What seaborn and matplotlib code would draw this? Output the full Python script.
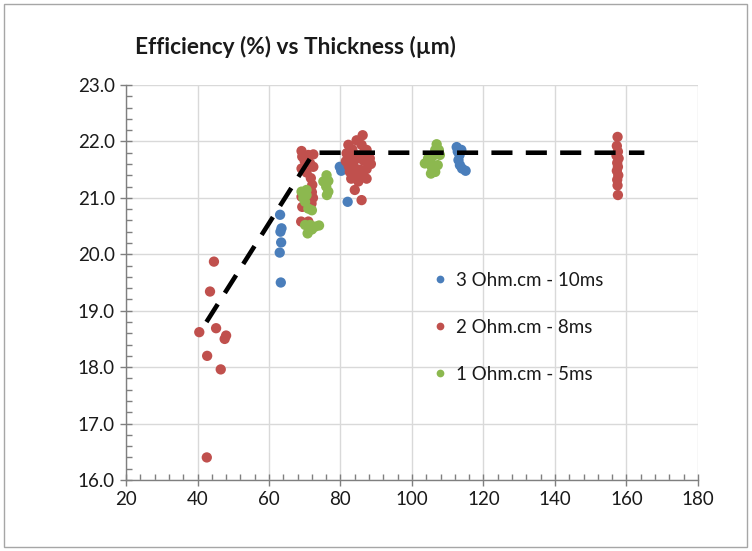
import numpy as np
import pandas as pd
import matplotlib
matplotlib.use("Agg")
import matplotlib.pyplot as plt
import seaborn as sns
from matplotlib.ticker import MultipleLocator, FormatStrFormatter
from matplotlib.patches import Rectangle

# ---- data ----
series_names = ["3 Ohm.cm - 10ms", "2 Ohm.cm - 8ms", "1 Ohm.cm - 5ms"]
series_colors = ["#4A7EBB", "#C0504D", "#8CB84F"]

blue_x = [63.1, 63.5, 63.2, 63.4, 63.0, 63.3, 79.8, 80.2, 82.0,
          112.5, 112.8, 113.3, 113.0, 113.4, 114.0, 115.0, 113.8]
blue_y = [20.70, 20.46, 20.40, 20.21, 20.03, 19.50, 21.55, 21.48, 20.93,
          21.90, 21.82, 21.76, 21.67, 21.58, 21.52, 21.48, 21.85]

red_x = [44.6, 43.5, 40.5, 45.2, 48.0, 47.6, 42.7, 46.5, 42.6,
         69.1, 69.3, 71.0, 72.4, 71.5, 72.4, 69.1, 71.7, 72.1, 69.1, 69.3, 71.9,
         69.0, 71.0, 72.3, 70.0, 70.5, 72.0,
         86.2, 84.5, 82.2, 83.3, 85.9, 87.3, 81.7, 83.6, 84.5, 85.0, 88.2, 86.5,
         82.3, 84.0, 85.5, 87.3, 82.6, 84.5, 86.0, 83.0, 87.3, 85.0, 84.0, 85.9,
         83.5, 86.5, 81.5, 88.5,
         157.5, 157.3, 157.6, 157.2, 157.8, 157.4, 157.6, 157.3, 157.7, 157.4,
         157.5, 157.6]
red_y = [19.87, 19.34, 18.62, 18.69, 18.56, 18.50, 18.20, 17.96, 16.40,
         21.83, 21.73, 21.76, 21.77, 21.61, 21.55, 21.52, 21.35, 21.23, 21.02, 20.84, 20.90,
         20.58, 20.58, 21.00, 21.65, 21.45, 21.10,
         22.11, 22.02, 21.94, 21.86, 21.94, 21.85, 21.79, 21.73, 21.76, 21.70, 21.70, 21.66,
         21.56, 21.53, 21.50, 21.51, 21.46, 21.43, 21.43, 21.34, 21.34, 21.29, 21.14, 20.96,
         21.62, 21.80, 21.65, 21.60,
         22.08, 21.92, 21.82, 21.75, 21.70, 21.62, 21.55, 21.48, 21.40, 21.32,
         21.22, 21.05]

green_x = [69.1, 70.5, 69.6, 70.1, 71.0, 72.0, 70.1, 71.5, 72.9, 74.0, 70.8, 72.0, 70.5,
           76.1, 76.6, 75.2, 76.0, 76.6, 76.2,
           106.9, 106.5, 107.8, 104.5, 105.2, 103.6, 105.5, 107.2, 106.5, 105.3, 106.0, 107.5]
green_y = [21.11, 21.14, 21.00, 20.93, 20.81, 20.78, 20.52, 20.52, 20.49, 20.51, 20.37, 20.44, 21.05,
           21.40, 21.30, 21.29, 21.20, 21.11, 21.05,
           21.95, 21.85, 21.76, 21.70, 21.64, 21.61, 21.55, 21.58, 21.46, 21.43, 21.75, 21.85]

trend_x = [42.5, 72.5, 165.0]
trend_y = [18.8, 21.8, 21.8]

x_ticks = [20, 40, 60, 80, 100, 120, 140, 160, 180]
y_ticks = [16.0, 17.0, 18.0, 19.0, 20.0, 21.0, 22.0, 23.0]
title = "Efficiency (%) vs Thickness (µm)"

# ---- build table ----
df = pd.concat([
    pd.DataFrame({"x": blue_x, "y": blue_y, "series": series_names[0]}),
    pd.DataFrame({"x": red_x, "y": red_y, "series": series_names[1]}),
    pd.DataFrame({"x": green_x, "y": green_y, "series": series_names[2]}),
], ignore_index=True)
trend = pd.DataFrame({"x": trend_x, "y": trend_y})

sns.set_theme(style="white")
plt.rcParams["font.family"] = ["Lato", "DejaVu Sans"]

fig = plt.figure(figsize=(7.52, 5.51), dpi=100)
ax = fig.add_axes([126/752, 1-480/551, (698-126)/752, (480-85)/551])

ax.grid(True, color="#D9D9D9", linewidth=1.0, zorder=0)
ax.set_axisbelow(True)

sns.lineplot(data=trend, x="x", y="y", ax=ax, color="black", linewidth=3.3,
             dashes=False, linestyle=(0, (4.6, 2.9)), zorder=3, legend=False, sort=False)

sns.scatterplot(data=df, x="x", y="y", hue="series", hue_order=series_names,
                palette=series_colors, s=55, edgecolor="none", linewidth=0,
                ax=ax, zorder=2)

ax.set_xlim(20, 180)
ax.set_ylim(16, 23)
ax.set_xticks(x_ticks)
ax.set_yticks(y_ticks)
ax.xaxis.set_minor_locator(MultipleLocator(4))
ax.yaxis.set_minor_locator(MultipleLocator(0.2))
ax.yaxis.set_major_formatter(FormatStrFormatter("%.1f"))
ax.set_xlabel("")
ax.set_ylabel("")

for s in ["top", "right"]:
    ax.spines[s].set_visible(False)
for s in ["left", "bottom"]:
    ax.spines[s].set_color("#7F7F7F")
    ax.spines[s].set_linewidth(1.0)

ax.tick_params(axis="both", which="major", direction="inout", length=8, width=1,
               color="#7F7F7F", labelsize=13.5, labelcolor="#1a1a1a", pad=4,
               bottom=True, left=True)
ax.tick_params(axis="both", which="minor", direction="in", length=4, width=1,
               color="#7F7F7F", bottom=True, left=True)

leg = ax.legend(loc="upper left", bbox_to_anchor=(0.50, 0.57), frameon=False,
                fontsize=13.5, labelspacing=1.6, handletextpad=0.25,
                markerscale=0.75, handlelength=1.2)
for t in leg.get_texts():
    t.set_color("#1a1a1a")

fig.text(135/752, 1-47/551, title, fontsize=16.3, fontweight="bold",
         ha="left", va="center", color="#1a1a1a")

fig.patches.append(Rectangle((4/752, 4/551), 743/752, 543/551, transform=fig.transFigure,
                             fill=False, edgecolor="#A6A6A6", linewidth=1.0))

fig.savefig("out.png", dpi=100)
